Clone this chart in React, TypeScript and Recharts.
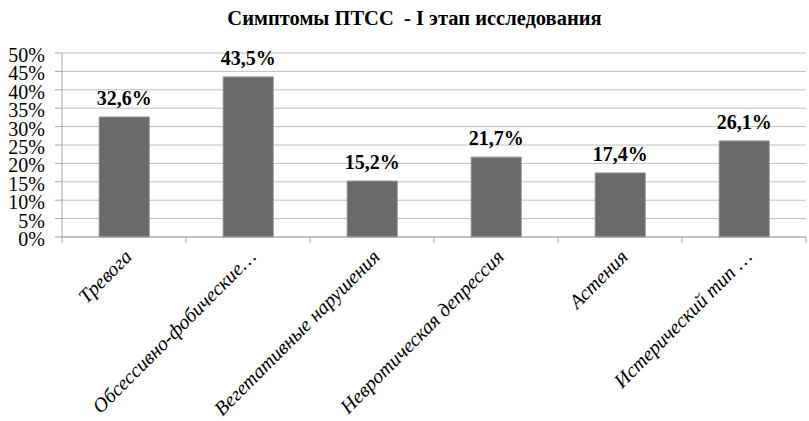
import { Bar, BarChart, CartesianGrid, LabelList, XAxis, YAxis } from 'recharts';

const categories = [
  'Тревога',
  'Обсессивно-фобические…',
  'Вегетативные нарушения',
  'Невротическая депрессия',
  'Астения',
  'Истерический тип …',
];
const shares = [32.6, 43.5, 15.2, 21.7, 17.4, 26.1];
const yTicks = [0, 5, 10, 15, 20, 25, 30, 35, 40, 45, 50];

const data = categories.map((name, i) => ({ name, value: shares[i] }));

const serif = 'Liberation Serif';

const XTick = (props: any) => {
  const { x, y, payload, index, visibleTicksCount } = props;
  const half = payload && payload.offset ? payload.offset : 62;
  const last = index === visibleTicksCount - 1;
  return (
    <g transform={`translate(${x},${y})`}>
      <line x1={-half} y1={0} x2={-half} y2={6} stroke="#a6a6a6" />
      {last && <line x1={half} y1={0} x2={half} y2={6} stroke="#a6a6a6" />}
      <text
        x={9}
        y={21}
        textAnchor="end"
        transform="rotate(-45, 9, 21)"
        fontFamily={serif}
        fontStyle="italic"
        fontSize={20}
        fill="#000"
      >
        {payload.value}
      </text>
    </g>
  );
};

const YTick = (props: any) => {
  const { x, y, payload } = props;
  return (
    <text x={x} y={y + 9} textAnchor="end" fontFamily={serif} fontSize={20} fill="#000">
      {`${payload.value}%`}
    </text>
  );
};

const ValueLabel = (props: any) => {
  const { x, y, width, value } = props;
  return (
    <text
      x={x + width / 2}
      y={y - 12}
      textAnchor="middle"
      fontFamily={serif}
      fontWeight="bold"
      fontSize={20}
      fill="#000"
    >
      {`${Number(value).toFixed(1).replace('.', ',')}%`}
    </text>
  );
};

const App = () => (
  <div style={{ position: 'absolute', left: 0, top: 0, width: 809, height: 421, background: '#fff' }}>
    <div
      style={{
        position: 'absolute',
        top: 8,
        left: 0,
        width: 829,
        textAlign: 'center',
        fontFamily: serif,
        fontWeight: 'bold',
        fontSize: 20.5,
        lineHeight: '20px',
        whiteSpace: 'pre',
        color: '#000',
      }}
    >
      Симптомы ПТСС  - I этап исследования
    </div>
    <BarChart
      width={809}
      height={421}
      data={data}
      margin={{ top: 53, right: 3, left: 0, bottom: 0 }}
      barCategoryGap="30%"
    >
      <CartesianGrid vertical={false} stroke="#bfbfbf" />
      <XAxis
        dataKey="name"
        interval={0}
        height={184}
        tickSize={0}
        tickMargin={0}
        tickLine={false}
        axisLine={{ stroke: '#a6a6a6' }}
        tick={<XTick />}
      />
      <YAxis
        domain={[0, 50]}
        ticks={yTicks}
        interval={0}
        width={62}
        tickSize={7}
        tickMargin={10}
        axisLine={{ stroke: '#a6a6a6' }}
        tickLine={{ stroke: '#a6a6a6' }}
        tick={<YTick />}
      />
      <Bar dataKey="value" fill="#6b6b6b" stroke="#8c8c8c" strokeWidth={1} isAnimationActive={false}>
        <LabelList dataKey="value" content={<ValueLabel />} />
      </Bar>
    </BarChart>
  </div>
);

export default App;
